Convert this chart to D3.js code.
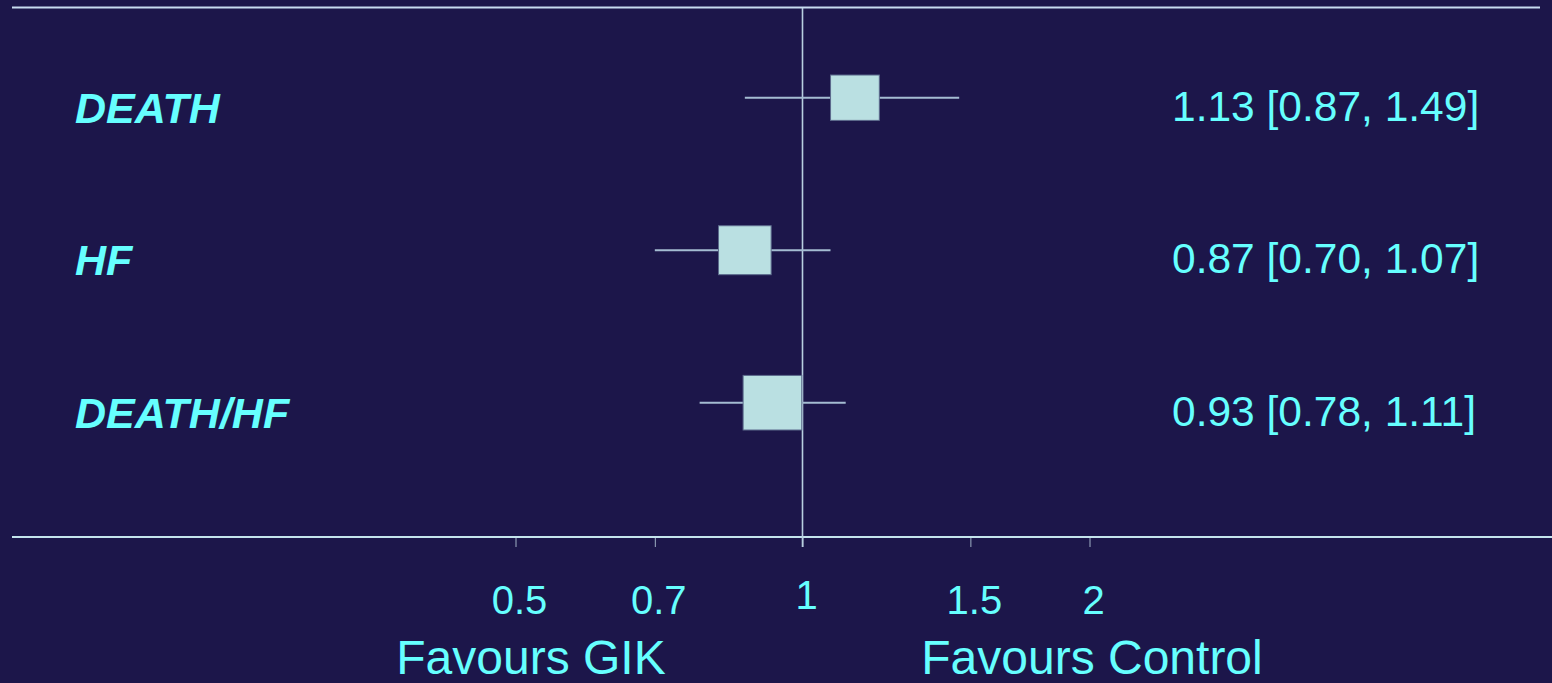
<!DOCTYPE html>
<html><head><meta charset="utf-8">
<script src="https://cdn.jsdelivr.net/npm/d3@7/dist/d3.min.js"></script>
<style>
html,body{margin:0;padding:0;background:#1c164a;overflow:hidden;}
svg{display:block;font-family:"Liberation Sans",Arial,sans-serif;}
</style></head>
<body>
<svg id="chart" width="1552" height="683"></svg>
<script>
// ---- data ----
const outcomes = ["DEATH", "HF", "DEATH/HF"];
const estimates = [1.135, 0.87, 0.93];
const lowerCI = [0.87, 0.70, 0.78];
const upperCI = [1.46, 1.07, 1.11];
const ciLabels = ["1.13 [0.87, 1.49]", "0.87 [0.70, 1.07]", "0.93 [0.78, 1.11]"];
const weights = [23.2, 27.0, 33.6];
const tickValues = [0.5, 0.7, 1, 1.5, 2];
const tickLabels = ["0.5", "0.7", "1", "1.5", "2"];
const sideLabels = ["Favours GIK", "Favours Control"];

// ---- layout ----
const W = 1552, H = 683;
const svg = d3.select("#chart");
svg.append("rect").attr("width", W).attr("height", H).attr("fill", "#1c164a");

const x = d3.scaleLog().domain([0.5, 2]).range([515.5, 1089.5]);
const y = d3.scalePoint().domain(outcomes).range([97.7, 402.7]);
const size = d3.scaleSqrt().domain([0, 33.6]).range([0, 58.7]);

const axisY = 537;
const textCol = "#66ffff";

// top frame line
svg.append("line").attr("x1", 12).attr("x2", 1540).attr("y1", 7.5).attr("y2", 7.5)
  .attr("stroke", "#c8dcf0").attr("stroke-width", 2);

// bottom axis
const axis = d3.axisBottom(x).tickValues(tickValues).tickSize(10).tickFormat("");
const gAxis = svg.append("g").attr("transform", `translate(0,${axisY})`).call(axis);
gAxis.select(".domain").remove();
gAxis.selectAll(".tick line").attr("stroke", "#9fb0c4").attr("stroke-width", 1);
svg.append("line").attr("x1", 12).attr("x2", 1552).attr("y1", axisY).attr("y2", axisY)
  .attr("stroke", "#c4e4ec").attr("stroke-width", 2);

// line of no effect
svg.append("line").attr("x1", x(1)).attr("x2", x(1)).attr("y1", 8).attr("y2", axisY + 10)
  .attr("stroke", "#b8cfe0").attr("stroke-width", 1.6);

// tick labels
svg.append("g").selectAll("text").data(tickValues).join("text")
  .attr("x", d => x(d) + 4)
  .attr("y", d => d === 1 ? 609 : 614)
  .attr("text-anchor", "middle")
  .attr("font-size", 40)
  .attr("fill", textCol)
  .text((d, i) => tickLabels[i]);

// side labels
svg.append("g").selectAll("text").data(sideLabels).join("text")
  .attr("x", (d, i) => i === 0 ? 531 : 1092)
  .attr("y", 674)
  .attr("text-anchor", "middle")
  .attr("font-size", 48)
  .attr("fill", textCol)
  .text(d => d);

// rows
const rows = svg.append("g").selectAll("g").data(outcomes).join("g");

rows.append("line")
  .attr("x1", (d, i) => x(lowerCI[i]))
  .attr("x2", (d, i) => x(upperCI[i]))
  .attr("y1", d => y(d)).attr("y2", d => y(d))
  .attr("stroke", "#a4bcd2").attr("stroke-width", 2);

rows.append("rect")
  .attr("x", (d, i) => x(estimates[i]) - size(weights[i]) / 2)
  .attr("y", (d, i) => y(d) - size(weights[i]) * 0.93 / 2)
  .attr("width", (d, i) => size(weights[i]))
  .attr("height", (d, i) => size(weights[i]) * 0.93)
  .attr("fill", "#bae0e2")
  .attr("stroke", "#5c6a8c").attr("stroke-width", 1);

rows.append("text")
  .attr("x", 75).attr("y", d => y(d) + 25)
  .attr("font-size", 43).attr("font-weight", "bold").attr("font-style", "italic")
  .attr("fill", textCol)
  .text(d => d);

rows.append("text")
  .attr("x", 1172).attr("y", d => y(d) + 23)
  .attr("font-size", 42.5)
  .attr("fill", textCol)
  .text((d, i) => ciLabels[i]);
</script>
</body></html>
